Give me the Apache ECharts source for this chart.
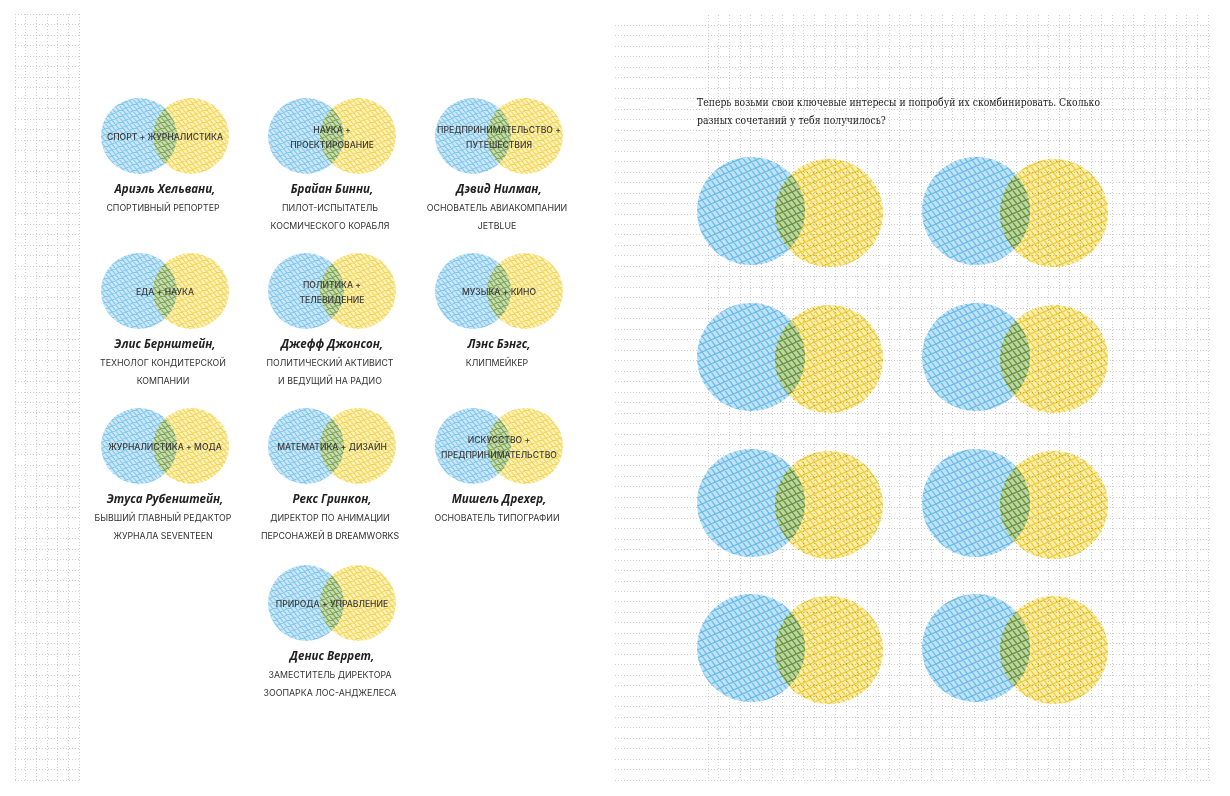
<!DOCTYPE html>
<html><head><meta charset="utf-8">
<script src="https://cdn.jsdelivr.net/npm/echarts@6/dist/echarts.min.js"></script>
<style>html,body{margin:0;padding:0;background:#fff}#c{width:1230px;height:796px}</style>
</head><body><div id="c"></div>
<script>
// ---------- DATA ----------
const topicLines = [
  ["СПОРТ + ЖУРНАЛИСТИКА"],
  ["НАУКА +", "ПРОЕКТИРОВАНИЕ"],
  ["ПРЕДПРИНИМАТЕЛЬСТВО +", "ПУТЕШЕСТВИЯ"],
  ["ЕДА + НАУКА"],
  ["ПОЛИТИКА +", "ТЕЛЕВИДЕНИЕ"],
  ["МУЗЫКА + КИНО"],
  ["ЖУРНАЛИСТИКА + МОДА"],
  ["МАТЕМАТИКА + ДИЗАЙН"],
  ["ИСКУССТВО +", "ПРЕДПРИНИМАТЕЛЬСТВО"],
  ["ПРИРОДА + УПРАВЛЕНИЕ"]
];
const personNames = [
  "Ариэль Хельвани,", "Брайан Бинни,", "Дэвид Нилман,",
  "Элис Бернштейн,", "Джефф Джонсон,", "Лэнс Бэнгс,",
  "Этуса Рубенштейн,", "Рекс Гринкон,", "Мишель Дрехер,",
  "Денис Веррет,"
];
const personRoles = [
  ["СПОРТИВНЫЙ РЕПОРТЕР"],
  ["ПИЛОТ-ИСПЫТАТЕЛЬ", "КОСМИЧЕСКОГО КОРАБЛЯ"],
  ["ОСНОВАТЕЛЬ АВИАКОМПАНИИ", "JETBLUE"],
  ["ТЕХНОЛОГ КОНДИТЕРСКОЙ", "КОМПАНИИ"],
  ["ПОЛИТИЧЕСКИЙ АКТИВИСТ", "И ВЕДУЩИЙ НА РАДИО"],
  ["КЛИПМЕЙКЕР"],
  ["БЫВШИЙ ГЛАВНЫЙ РЕДАКТОР", "ЖУРНАЛА SEVENTEEN"],
  ["ДИРЕКТОР ПО АНИМАЦИИ", "ПЕРСОНАЖЕЙ В DREAMWORKS"],
  ["ОСНОВАТЕЛЬ ТИПОГРАФИИ"],
  ["ЗАМЕСТИТЕЛЬ ДИРЕКТОРА", "ЗООПАРКА ЛОС-АНДЖЕЛЕСА"]
];
const headingLines = [
  "Теперь возьми свои ключевые интересы и попробуй их скомбинировать. Сколько",
  "разных сочетаний у тебя получилось?"
];
const blankPairCount = 8;

// ---------- LAYOUT ----------
const L = { blueX: [139, 306, 473], gap: 52, r: 38, rowY: [136, 291, 446, 603] };
const R = { blueX: [751, 976], gap: 78, r: 54, rowY: [211, 357, 503, 648] };
const leftSlots = [[0,0],[1,0],[2,0],[0,1],[1,1],[2,1],[0,2],[1,2],[2,2],[1,3]];

function makePattern(base, line, W, H, lw) {
  const cv = document.createElement('canvas');
  cv.width = W; cv.height = H;
  const ctx = cv.getContext('2d');
  ctx.fillStyle = base; ctx.fillRect(0, 0, W, H);
  ctx.strokeStyle = line; ctx.lineWidth = lw; ctx.lineCap = 'round';
  ctx.beginPath();
  for (let k = -2; k <= 2; k++) { ctx.moveTo(k * W, H); ctx.lineTo((k + 1) * W, 0); }
  const t = W / 3;
  for (let k = -6; k <= 6; k++) { ctx.moveTo(k * t, 0); ctx.lineTo(k * t + t, H); }
  ctx.stroke();
  return cv;
}
const pats = {
  blueS: { image: makePattern('#cbe7f7', '#80c6ec', 14, 6, 1.1), repeat: 'repeat' },
  yelS: { image: makePattern('#fcf2b8', '#f3d458', 14, 6, 1.1), repeat: 'repeat' },
  blueL: { image: makePattern('#c0e2f6', '#6cbcea', 18, 8, 1.3), repeat: 'repeat' },
  yelL: { image: makePattern('#fcefaa', '#f0cc40', 18, 8, 1.3), repeat: 'repeat' }
};

const blueCircles = [];   // [cx, cy, r, size]  size: 0 small, 1 large
const yellowCircles = [];
const texts = [];         // {x,y,text,type}
topicLines.forEach((lines, i) => {
  const [c, r] = leftSlots[i];
  const bx = L.blueX[c], cy = L.rowY[r];
  blueCircles.push([bx, cy, L.r, 0]);
  yellowCircles.push([bx + L.gap, cy, L.r, 0]);
  const mx = bx + L.gap / 2;
  if (lines.length === 1) texts.push({x: mx, y: cy + 1, text: lines[0], type: 'topic'});
  else lines.forEach((s, j) => texts.push({x: mx, y: cy - 6 + j * 15, text: s, type: 'topic'}));
  texts.push({x: mx, y: cy + 54, text: personNames[i], type: 'name'});
  personRoles[i].forEach((s, j) => texts.push({x: mx - 2, y: cy + 72 + j * 18, text: s, type: 'role'}));
});
for (let i = 0; i < blankPairCount; i++) {
  const c = i % 2, r = Math.floor(i / 2);
  blueCircles.push([R.blueX[c], R.rowY[r], R.r, 1]);
  yellowCircles.push([R.blueX[c] + R.gap, R.rowY[r] + 2, R.r, 1]);
}
headingLines.forEach((s, j) => texts.push({x: 697, y: 103 + j * 18, text: s, type: 'head'}));

const fonts = {
  topic: {font: '500 8.6px Inter', fill: '#3a3a3a', align: 'center', sx: 1},
  name: {font: 'italic bold 11.5px "Open Sans"', fill: '#222', align: 'center', sx: 1},
  role: {font: '8.8px Inter', fill: '#333', align: 'center', sx: 1},
  head: {font: '10.5px "DejaVu Serif"', fill: '#222', align: 'left', sx: 0.885}
};

function circleRenderer(patSmall, patLarge) {
  return function (params, api) {
    const p = api.coord([api.value(0), api.value(1)]);
    const r = api.size([api.value(2), 0])[0];
    return {type: 'circle', shape: {cx: p[0], cy: p[1], r: r},
      style: {fill: api.value(3) === 1 ? patLarge : patSmall}};
  };
}

const dotted = {show: true, lineStyle: {type: [1, 2], color: '#cdcdcd', width: 1}};
const hid = {axisLine: {show: false}, axisTick: {show: false}, axisLabel: {show: false}};

const chart = echarts.init(document.getElementById('c'), null, {renderer: 'canvas'});
chart.setOption({
  backgroundColor: '#ffffff',
  animation: false,
  grid: [
    {left: 0, top: 0, width: 1230, height: 796},
    {left: 15, top: 14, width: 64, height: 766},
    {left: 615, top: 25, width: 595, height: 755},
    {left: 708, top: 15, width: 500, height: 765}
  ],
  xAxis: [
    {gridIndex: 0, type: 'value', min: 0, max: 1230, show: false},
    Object.assign({gridIndex: 1, type: 'value', min: 0, max: 6, interval: 1, splitLine: dotted}, hid),
    Object.assign({gridIndex: 2, type: 'value', min: 0, max: 1, interval: 1, splitLine: {show: false}}, hid),
    Object.assign({gridIndex: 3, type: 'value', min: 0, max: 47, interval: 1, splitLine: dotted}, hid)
  ],
  yAxis: [
    {gridIndex: 0, type: 'value', min: 0, max: 796, inverse: true, show: false},
    Object.assign({gridIndex: 1, type: 'value', min: 0, max: 73, interval: 1, splitLine: dotted}, hid),
    Object.assign({gridIndex: 2, type: 'value', min: 0, max: 72, interval: 1, splitLine: dotted}, hid),
    Object.assign({gridIndex: 3, type: 'value', min: 0, max: 1, interval: 1, splitLine: {show: false}}, hid)
  ],
  series: [
    {
      type: 'custom', name: 'blue', coordinateSystem: 'cartesian2d', xAxisIndex: 0, yAxisIndex: 0,
      encode: {x: 0, y: 1}, data: blueCircles, silent: true, z: 2,
      renderItem: circleRenderer(pats.blueS, pats.blueL)
    },
    {
      type: 'custom', name: 'yellow', coordinateSystem: 'cartesian2d', xAxisIndex: 0, yAxisIndex: 0,
      encode: {x: 0, y: 1}, data: yellowCircles, silent: true, z: 3, blendMode: 'multiply',
      itemStyle: {opacity: 0.92},
      renderItem: circleRenderer(pats.yelS, pats.yelL)
    },
    {
      type: 'custom', name: 'texts', coordinateSystem: 'cartesian2d', xAxisIndex: 0, yAxisIndex: 0,
      encode: {x: 0, y: 1}, data: texts.map(t => [t.x, t.y]), silent: true, z: 10,
      renderItem: function (params, api) {
        const t = texts[params.dataIndex];
        const f = fonts[t.type];
        const p = api.coord([api.value(0), api.value(1)]);
        return {type: 'text', x: p[0], y: p[1], scaleX: f.sx,
          style: {text: t.text, font: f.font, fill: f.fill, align: f.align, verticalAlign: 'middle'}};
      }
    }
  ]
});
</script></body></html>
